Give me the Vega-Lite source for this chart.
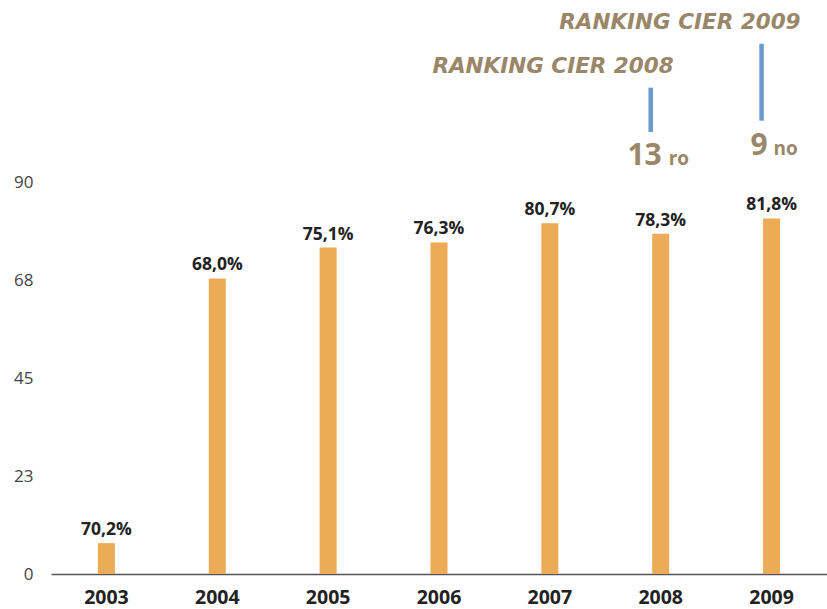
{
  "$schema": "https://vega.github.io/schema/vega-lite/v6.json",
  "width": 776,
  "height": 565,
  "autosize": {"type": "none"},
  "padding": {"left": 51, "top": 9, "right": 0, "bottom": 35},
  "background": "white",
  "config": {"view": {"stroke": null}, "font": "Open Sans"},
  "datasets": {
    "bars": [
      {"year": "2003", "value": 7.1, "label": "70,2%"},
      {"year": "2004", "value": 68.0, "label": "68,0%"},
      {"year": "2005", "value": 75.1, "label": "75,1%"},
      {"year": "2006", "value": 76.3, "label": "76,3%"},
      {"year": "2007", "value": 80.7, "label": "80,7%"},
      {"year": "2008", "value": 78.3, "label": "78,3%"},
      {"year": "2009", "value": 81.8, "label": "81,8%"}
    ],
    "rules": [
      {"year": "2008", "y1": 101.7, "y2": 111.9},
      {"year": "2009", "y1": 104.3, "y2": 122.0}
    ],
    "t2008": [{"year": "2008", "y": 115.3, "text": "RANKING CIER 2008", "num": "13", "suf": "ro", "ny": 94.2}],
    "t2009": [{"year": "2009", "y": 125.5, "text": "RANKING CIER 2009", "num": "9", "suf": "no", "ny": 96.5}]
  },
  "layer": [
    {
      "data": {"name": "bars"},
      "mark": {"type": "bar", "color": "#ECAB56", "size": 17},
      "encoding": {
        "x": {
          "field": "year", "type": "nominal",
          "scale": {"paddingInner": 0, "paddingOuter": 0},
          "axis": {
            "title": null, "labelAngle": 0, "ticks": false,
            "labelFont": "Open Sans", "labelFontWeight": "bold", "labelFontSize": 19.5,
            "labelColor": "#222222", "labelPadding": 14,
            "domainColor": "#555555", "domainWidth": 1.5
          }
        },
        "y": {
          "field": "value", "type": "quantitative",
          "scale": {"domain": [0, 130], "nice": false},
          "axis": {
            "title": null, "values": [0, 22.5, 45, 67.5, 90], "format": ".0f",
            "grid": false, "domain": false, "ticks": false,
            "labelFont": "Open Sans", "labelFontSize": 17, "labelColor": "#444444",
            "labelPadding": 18
          }
        }
      }
    },
    {
      "data": {"name": "bars"},
      "mark": {"type": "text", "baseline": "alphabetic", "dy": -8, "fontSize": 17.5, "fontWeight": "bold", "color": "#222222", "font": "Open Sans"},
      "encoding": {
        "x": {"field": "year", "type": "nominal"},
        "y": {"field": "value", "type": "quantitative"},
        "text": {"field": "label"}
      }
    },
    {
      "data": {"name": "rules"},
      "mark": {"type": "rule", "color": "#6A9BCB", "strokeWidth": 4.5, "xOffset": -10},
      "encoding": {
        "x": {"field": "year", "type": "nominal"},
        "y": {"field": "y1", "type": "quantitative"},
        "y2": {"field": "y2"}
      }
    },
    {
      "data": {"name": "t2008"},
      "mark": {"type": "text", "align": "right", "baseline": "alphabetic", "dx": 13, "fontSize": 21.5, "fontWeight": "bold", "fontStyle": "italic", "color": "#9A8668", "font": "DejaVu Sans"},
      "encoding": {
        "x": {"field": "year", "type": "nominal"},
        "y": {"field": "y", "type": "quantitative"},
        "text": {"field": "text"}
      }
    },
    {
      "data": {"name": "t2009"},
      "mark": {"type": "text", "align": "right", "baseline": "alphabetic", "dx": 29, "fontSize": 21.5, "fontWeight": "bold", "fontStyle": "italic", "color": "#9A8668", "font": "DejaVu Sans"},
      "encoding": {
        "x": {"field": "year", "type": "nominal"},
        "y": {"field": "y", "type": "quantitative"},
        "text": {"field": "text"}
      }
    },
    {
      "data": {"name": "t2008"},
      "mark": {"type": "text", "align": "right", "baseline": "alphabetic", "dx": 1, "fontSize": 30, "fontWeight": "bold", "color": "#9A8668", "font": "Open Sans"},
      "encoding": {
        "x": {"field": "year", "type": "nominal"},
        "y": {"field": "ny", "type": "quantitative"},
        "text": {"field": "num"}
      }
    },
    {
      "data": {"name": "t2008"},
      "mark": {"type": "text", "align": "left", "baseline": "alphabetic", "dx": 8, "fontSize": 19, "fontWeight": "bold", "color": "#9A8668", "font": "Open Sans"},
      "encoding": {
        "x": {"field": "year", "type": "nominal"},
        "y": {"field": "ny", "type": "quantitative"},
        "text": {"field": "suf"}
      }
    },
    {
      "data": {"name": "t2009"},
      "mark": {"type": "text", "align": "right", "baseline": "alphabetic", "dx": -4, "fontSize": 30, "fontWeight": "bold", "color": "#9A8668", "font": "Open Sans"},
      "encoding": {
        "x": {"field": "year", "type": "nominal"},
        "y": {"field": "ny", "type": "quantitative"},
        "text": {"field": "num"}
      }
    },
    {
      "data": {"name": "t2009"},
      "mark": {"type": "text", "align": "left", "baseline": "alphabetic", "dx": 2, "fontSize": 19, "fontWeight": "bold", "color": "#9A8668", "font": "Open Sans"},
      "encoding": {
        "x": {"field": "year", "type": "nominal"},
        "y": {"field": "ny", "type": "quantitative"},
        "text": {"field": "suf"}
      }
    }
  ]
}
